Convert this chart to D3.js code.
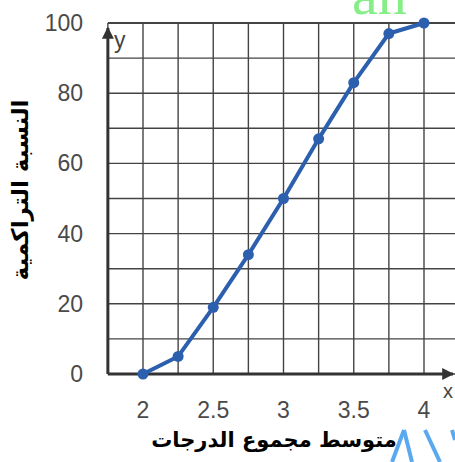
<!DOCTYPE html>
<html><head><meta charset="utf-8">
<script src="https://cdn.jsdelivr.net/npm/d3@7"></script>
<style>
html,body{margin:0;padding:0;background:#fff;}
svg{display:block;}
</style></head>
<body>
<svg id="c" width="455" height="462"></svg>
<script>
const xValues = [2, 2.25, 2.5, 2.75, 3, 3.25, 3.5, 3.75, 4];
const cumulative = [0, 5, 19, 34, 50, 67, 83, 97, 100];
const xTicks = [2, 2.5, 3, 3.5, 4];
const xTickLabels = ["2", "2.5", "3", "3.5", "4"];
const yTicks = [0, 20, 40, 60, 80, 100];
const xGrid = [1.75, 2, 2.25, 2.5, 2.75, 3, 3.25, 3.5, 3.75, 4, 4.25];
const yGrid = [0, 10, 20, 30, 40, 50, 60, 70, 80, 90, 100];
const xTitle = "متوسط مجموع الدرجات";
const yTitle = "النسبة التراكمية";

const svg = d3.select("#c");
const x = d3.scaleLinear().domain([2, 4]).range([143, 424]);
const y = d3.scaleLinear().domain([0, 100]).range([374, 23]);
const left = x(1.75), right = 455;

// watermark fragment
svg.append("text").attr("x", 352).attr("y", 14)
  .attr("font-family", "Liberation Serif, DejaVu Serif, serif")
  .attr("font-size", 58).attr("fill", "#86ee86").text("an");

// grid
const g = svg.append("g");
g.selectAll("line.h").data(yGrid).join("line")
  .attr("x1", left).attr("x2", right)
  .attr("y1", d => y(d)).attr("y2", d => y(d))
  .attr("stroke", "#444").attr("stroke-width", d => d === 100 ? 2 : 1.4);
g.selectAll("line.v").data(xGrid).join("line")
  .attr("x1", d => x(d)).attr("x2", d => x(d))
  .attr("y1", y(100)).attr("y2", y(0))
  .attr("stroke", "#444").attr("stroke-width", 1.4);

// axes with arrows
svg.append("defs").append("marker").attr("id", "arr")
  .attr("viewBox", "0 0 10 10").attr("refX", 9).attr("refY", 5)
  .attr("markerWidth", 4).attr("markerHeight", 4).attr("orient", "auto")
  .append("path").attr("d", "M0,0L10,5L0,10z").attr("fill", "#333");
svg.append("line").attr("x1", left).attr("x2", 453).attr("y1", y(0)).attr("y2", y(0))
  .attr("stroke", "#333").attr("stroke-width", 3).attr("marker-end", "url(#arr)");
svg.append("line").attr("x1", left).attr("x2", left).attr("y1", y(0)).attr("y2", 28)
  .attr("stroke", "#333").attr("stroke-width", 3).attr("marker-end", "url(#arr)");
svg.append("text").attr("x", 114).attr("y", 48).attr("font-family", "Liberation Sans, Arial, sans-serif")
  .attr("font-size", 23).attr("fill", "#444").text("y");
svg.append("text").attr("x", 443).attr("y", 398).attr("font-family", "Liberation Sans, Arial, sans-serif")
  .attr("font-size", 20).attr("fill", "#444").text("x");

// tick labels
const tickFont = "Liberation Sans Narrow, Arial Narrow, Liberation Sans, sans-serif";
svg.selectAll("text.yt").data(yTicks).join("text")
  .attr("x", 83).attr("y", d => y(d) + 8).attr("text-anchor", "end")
  .attr("font-family", tickFont).attr("font-size", 23).attr("fill", "#4a4a4a")
  .text(d => d);
svg.selectAll("text.xt").data(xTicks).join("text")
  .attr("x", d => x(d)).attr("y", 418).attr("text-anchor", "middle")
  .attr("font-family", tickFont).attr("font-size", 23).attr("fill", "#4a4a4a")
  .text((d, i) => xTickLabels[i]);

// line + points
const line = d3.line().x((d, i) => x(xValues[i])).y(d => y(d));
svg.append("path").datum(cumulative).attr("d", line)
  .attr("fill", "none").attr("stroke", "#2c5fae").attr("stroke-width", 4)
  .attr("stroke-linejoin", "round");
svg.selectAll("circle").data(cumulative).join("circle")
  .attr("cx", (d, i) => x(xValues[i])).attr("cy", d => y(d)).attr("r", 5.5)
  .attr("fill", "#2c5fae");

// titles
svg.append("text").attr("x", 274).attr("y", 447).attr("text-anchor", "middle")
  .attr("direction", "rtl")
  .attr("font-family", "DejaVu Sans, sans-serif").attr("font-weight", "bold")
  .attr("font-size", 21).attr("fill", "#000").text(xTitle);
svg.append("text").attr("transform", "translate(28,190) rotate(-90)")
  .attr("text-anchor", "middle").attr("direction", "rtl")
  .attr("font-family", "DejaVu Sans, sans-serif").attr("font-weight", "bold")
  .attr("font-size", 23).attr("fill", "#000").text(yTitle);

// blue logo strokes bottom right
const strokes = [[392,462,404,430],[404,430,412,462],[425,430,440,462],[452,430,455,440]];
svg.selectAll("line.s").data(strokes).join("line")
  .attr("x1", d => d[0]).attr("y1", d => d[1]).attr("x2", d => d[2]).attr("y2", d => d[3])
  .attr("stroke", "#5aa9f0").attr("stroke-width", 4);
</script>
</body></html>
